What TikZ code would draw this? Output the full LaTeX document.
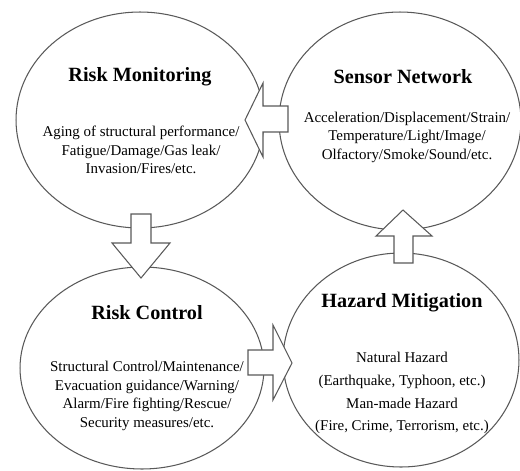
\documentclass[tikz,border=0pt]{standalone}
\usepackage{fontspec}
\setmainfont{Liberation Serif}
\usetikzlibrary{shapes.geometric}

\tikzset{
  loop/.style={ellipse,draw=black!65,line width=0.6pt,inner sep=0pt},
  heading/.style={font=\fontsize{11.5}{13}\selectfont\bfseries,inner sep=0pt},
  detail/.style={font=\fontsize{8.5}{10.5}\selectfont,align=center,inner sep=0pt},
  blockarrow/.style={draw=black!65,fill=white,line width=0.6pt,line join=miter}
}

\begin{document}
\begin{tikzpicture}[x=0.02cm,y=-0.02cm]
\useasboundingbox (0,0) rectangle (520,470);

% the four stages
\node[loop,minimum width=4.96cm,minimum height=4.32cm] (mon) at (140,120) {};
\node[loop,minimum width=4.84cm,minimum height=4.36cm] (sen) at (400,121) {};
\node[loop,minimum width=4.88cm,minimum height=4.04cm] (ctl) at (142,368) {};
\node[loop,minimum width=4.72cm,minimum height=4.28cm] (haz) at (401,360) {};

\node[heading] (monT) at (140,77) {Risk Monitoring};
\node[detail] (monD) at (141,150) {Aging of structural performance/\\Fatigue/Damage/Gas leak/\\Invasion/Fires/etc.};

\node[heading] (senT) at (403,77) {Sensor Network};
\node[detail] (senD) at (407,137) {Acceleration/Displacement/Strain/\\Temperature/Light/Image/\\Olfactory/Smoke/Sound/etc.};

\node[heading] (ctlT) at (147,313) {Risk Control};
\node[detail] (ctlD) at (147,396) {Structural Control/Maintenance/\\Evacuation guidance/Warning/\\Alarm/Fire fighting/Rescue/\\Security measures/etc.};

\node[heading] (hazT) at (402,303) {Hazard Mitigation};
\node[detail,font=\fontsize{8.5}{13}\selectfont] (hazD) at (402,393) {Natural Hazard\\(Earthquake, Typhoon, etc.)\\Man-made Hazard\\(Fire, Crime, Terrorism, etc.)};

% block arrows between the stages
\draw[blockarrow] (288,106) -- (263,106) -- (263,83) -- (245,120) -- (263,157) -- (263,132) -- (288,132) -- cycle;
\draw[blockarrow] (131,214) -- (131,243) -- (112,243) -- (141,278) -- (170,243) -- (151,243) -- (151,214) -- cycle;
\draw[blockarrow] (248,350) -- (273,350) -- (273,325) -- (292,363) -- (273,400) -- (273,375) -- (248,375) -- cycle;
\draw[blockarrow] (394,263) -- (394,236) -- (376,236) -- (403,210) -- (432,236) -- (413,236) -- (413,263) -- cycle;

\end{tikzpicture}
\end{document}
